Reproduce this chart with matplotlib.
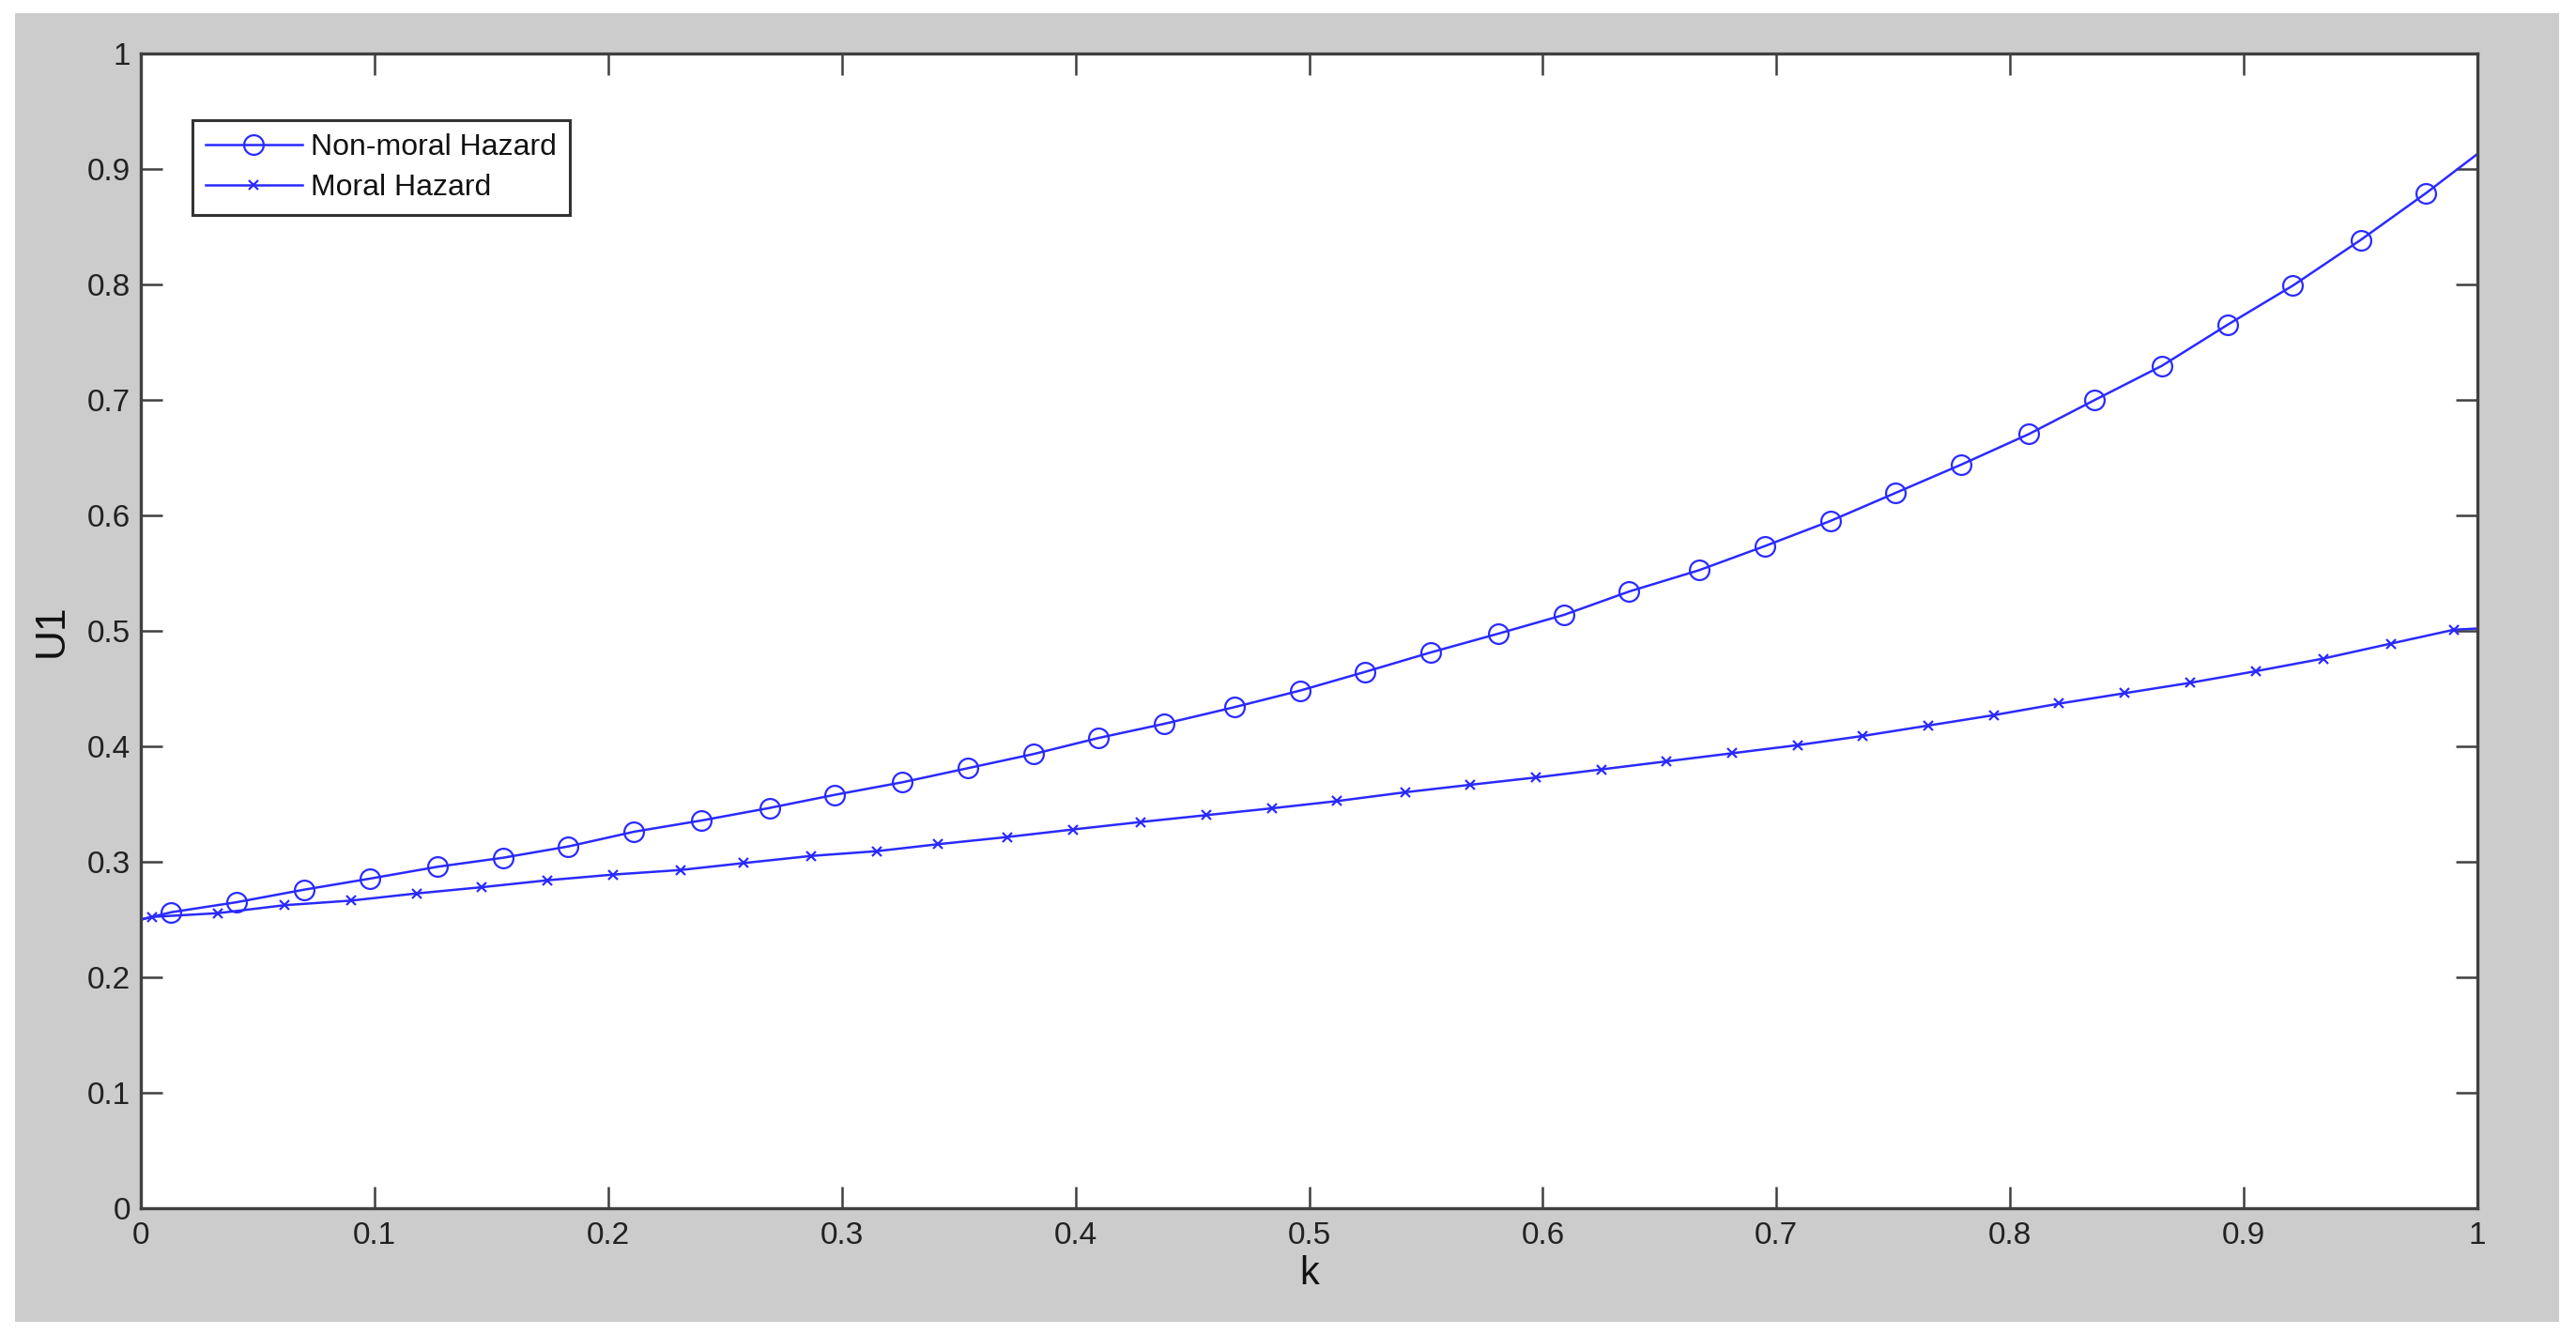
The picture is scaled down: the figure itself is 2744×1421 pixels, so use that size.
import matplotlib
matplotlib.use('Agg')
import matplotlib.pyplot as plt
from matplotlib.patches import Rectangle

plt.rcParams['font.family'] = ['Liberation Sans', 'DejaVu Sans']

# Non-moral Hazard curve (line ends at k=0 and k=1, circles at the inner points)
k_nonmoral = [0.0, 0.013, 0.041, 0.070, 0.098, 0.127, 0.155, 0.183, 0.211, 0.240, 0.269,
              0.297, 0.326, 0.354, 0.382, 0.410, 0.438, 0.468, 0.496, 0.524, 0.552,
              0.581, 0.609, 0.637, 0.667, 0.695, 0.723, 0.751, 0.779, 0.808, 0.836,
              0.865, 0.893, 0.921, 0.950, 0.978, 1.0]
u_nonmoral = [0.250, 0.2563, 0.2650, 0.2759, 0.2854, 0.2957, 0.3035, 0.3133, 0.3260, 0.3358, 0.3466,
              0.3580, 0.3689, 0.3811, 0.3933, 0.4073, 0.4195, 0.4339, 0.4482, 0.4645, 0.4813,
              0.4976, 0.5138, 0.5341, 0.5526, 0.5734, 0.5951, 0.6195, 0.6439, 0.6704, 0.6997,
              0.7296, 0.7650, 0.7990, 0.8385, 0.8791, 0.913]

# Moral Hazard curve
k_moral = [0.0, 0.005, 0.033, 0.0615, 0.090, 0.118, 0.146, 0.174, 0.202, 0.231, 0.258,
           0.287, 0.315, 0.341, 0.371, 0.399, 0.428, 0.456, 0.484, 0.512, 0.541,
           0.569, 0.597, 0.625, 0.653, 0.681, 0.709, 0.737, 0.765, 0.793, 0.821,
           0.849, 0.877, 0.905, 0.934, 0.963, 0.990, 1.0]
u_moral = [0.250, 0.2523, 0.2555, 0.2624, 0.2664, 0.2726, 0.2780, 0.2840, 0.2889, 0.2929, 0.2989,
           0.3051, 0.3092, 0.3152, 0.3215, 0.3280, 0.3345, 0.3404, 0.3463, 0.3526, 0.3602,
           0.3667, 0.373, 0.380, 0.387, 0.394, 0.401, 0.409, 0.418, 0.427, 0.437,
           0.446, 0.455, 0.465, 0.476, 0.489, 0.501, 0.502]

tick_values = [0, 0.1, 0.2, 0.3, 0.4, 0.5, 0.6, 0.7, 0.8, 0.9, 1]
tick_labels = ['0', '0.1', '0.2', '0.3', '0.4', '0.5', '0.6', '0.7', '0.8', '0.9', '1']

fig = plt.figure(figsize=(27.44, 14.21), dpi=100, facecolor='white')
# grey matlab-like figure background
fig.patches.append(Rectangle((16 / 2744, 13 / 1421), 2710 / 2744, 1394 / 1421,
                             transform=fig.transFigure, facecolor='#cccccc',
                             edgecolor='none', zorder=-10))

ax = fig.add_axes([150 / 2744, 134 / 1421, 2489 / 2744, 1230 / 1421])
ax.set_facecolor('white')

ax.plot(k_nonmoral, u_nonmoral, color='#2a2aff', lw=1.8, marker='o', markersize=15,
        markerfacecolor='none', markeredgewidth=1.6, markevery=slice(1, -1),
        label='Non-moral Hazard')
ax.plot(k_moral, u_moral, color='#2a2aff', lw=1.8, marker='x', markersize=7,
        markeredgewidth=1.6, markevery=slice(1, -1), label='Moral Hazard')

ax.set_xlim(0, 1)
ax.set_ylim(0, 1)
ax.set_xticks(tick_values)
ax.set_xticklabels(tick_labels)
ax.set_yticks(tick_values)
ax.set_yticklabels(tick_labels)

ax.tick_params(direction='in', length=16.5, width=1.8, color='#404040',
               labelsize=24, labelcolor='#222222', top=True, right=True)
ax.tick_params(axis='x', pad=10)
ax.tick_params(axis='y', pad=8)
for s in ax.spines.values():
    s.set_color('#404040')
    s.set_linewidth(2.4)

ax.set_xlabel('k', fontsize=30, color='#111111', labelpad=4)
ax.set_ylabel('U1', fontsize=32, color='#111111', labelpad=12)

leg = ax.legend(loc='upper left', bbox_to_anchor=(0.0221, 0.9423), borderaxespad=0,
                fontsize=23, fancybox=False, framealpha=1, edgecolor='#333333',
                handlelength=3.2, handletextpad=0.3, borderpad=0.45, labelspacing=0.4)
leg.get_frame().set_linewidth(2.2)
for t in leg.get_texts():
    t.set_color('#111111')

plt.savefig('out.png', dpi=100, facecolor='white')
